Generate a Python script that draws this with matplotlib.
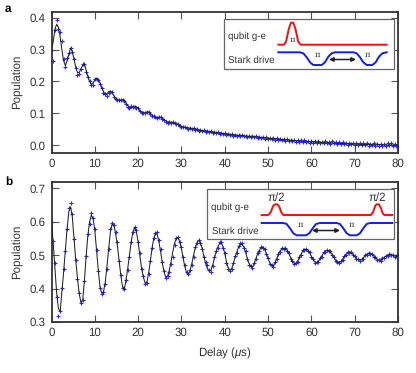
import matplotlib
matplotlib.use('Agg')
import matplotlib.pyplot as plt

plt.rcParams['font.family'] = ['Liberation Sans', 'DejaVu Sans']
plt.rcParams['mathtext.fontset'] = 'custom'
plt.rcParams['mathtext.it'] = 'Liberation Sans:italic'
plt.rcParams['text.hinting'] = 'none'

delay = [0.0, 0.4, 0.8, 1.2, 1.6, 2.0, 2.4, 2.8, 3.2, 3.6,
         4.0, 4.4, 4.8, 5.2, 5.6, 6.0, 6.4, 6.8, 7.2, 7.6,
         8.0, 8.4, 8.8, 9.2, 9.6, 10.0, 10.4, 10.8, 11.2, 11.6,
         12.0, 12.4, 12.8, 13.2, 13.6, 14.0, 14.4, 14.8, 15.2, 15.6,
         16.0, 16.4, 16.8, 17.2, 17.6, 18.0, 18.4, 18.8, 19.2, 19.6,
         20.0, 20.4, 20.8, 21.2, 21.6, 22.0, 22.4, 22.8, 23.2, 23.6,
         24.0, 24.4, 24.8, 25.2, 25.6, 26.0, 26.4, 26.8, 27.2, 27.6,
         28.0, 28.4, 28.8, 29.2, 29.6, 30.0, 30.4, 30.8, 31.2, 31.6,
         32.0, 32.4, 32.8, 33.2, 33.6, 34.0, 34.4, 34.8, 35.2, 35.6,
         36.0, 36.4, 36.8, 37.2, 37.6, 38.0, 38.4, 38.8, 39.2, 39.6,
         40.0, 40.4, 40.8, 41.2, 41.6, 42.0, 42.4, 42.8, 43.2, 43.6,
         44.0, 44.4, 44.8, 45.2, 45.6, 46.0, 46.4, 46.8, 47.2, 47.6,
         48.0, 48.4, 48.8, 49.2, 49.6, 50.0, 50.4, 50.8, 51.2, 51.6,
         52.0, 52.4, 52.8, 53.2, 53.6, 54.0, 54.4, 54.8, 55.2, 55.6,
         56.0, 56.4, 56.8, 57.2, 57.6, 58.0, 58.4, 58.8, 59.2, 59.6,
         60.0, 60.4, 60.8, 61.2, 61.6, 62.0, 62.4, 62.8, 63.2, 63.6,
         64.0, 64.4, 64.8, 65.2, 65.6, 66.0, 66.4, 66.8, 67.2, 67.6,
         68.0, 68.4, 68.8, 69.2, 69.6, 70.0, 70.4, 70.8, 71.2, 71.6,
         72.0, 72.4, 72.8, 73.2, 73.6, 74.0, 74.4, 74.8, 75.2, 75.6,
         76.0, 76.4, 76.8, 77.2, 77.6, 78.0, 78.4, 78.8, 79.2, 79.6,
         80.0]

# panel a, measured points
meas_a = [.300, .265, .362, .394, .364, .354, .326, .270, .247, .273,
          .289, .305, .294, .270, .242, .219, .223, .239, .254, .254,
          .231, .213, .200, .190, .190, .207, .208, .204, .192, .180,
          .165, .160, .155, .165, .168, .166, .152, .145, .143, .143,
          .143, .142, .140, .130, .120, .115, .122, .121, .120, .118,
          .117, .108, .100, .100, .101, .105, .103, .098, .090, .092,
          .087, .085, .087, .089, .082, .080, .074, .070, .073, .070,
          .073, .070, .066, .066, .060, .058, .056, .058, .054, .052,
          .055, .050, .053, .048, .049, .045, .047, .044, .046, .042,
          .044, .040, .043, .038, .041, .037, .040, .035, .038, .034,
          .037, .032, .036, .033, .035, .030, .033, .029, .032, .028,
          .031, .027, .030, .026, .029, .025, .028, .024, .027, .023,
          .026, .022, .025, .020, .024, .019, .023, .018, .022, .017,
          .021, .016, .020, .015, .019, .014, .020, .013, .017, .012,
          .016, .011, .016, .010, .015, .009, .015, .009, .014, .008,
          .013, .007, .012, .008, .013, .006, .011, .007, .012, .005,
          .011, .004, .012, .006, .011, .003, .010, .004, .009, .002,
          .008, .001, .007, .002, .006, -.001, .007, .000, .005, -.001,
          .006, .000, .005, -.002, .004, -.001, .005, -.002, .003, -.003,
          .004, -.002, .003, -.003, .005, -.001, .006, -.002, .004, -.003,
          .001]

# panel a, fit
fit_a = [.300, .325, .365, .380, .370, .340, .300, .265, .250, .265,
         .285, .305, .295, .270, .245, .228, .228, .240, .250, .255,
         .235, .215, .200, .190, .195, .205, .210, .205, .195, .180,
         .168, .160, .162, .168, .170, .165, .155, .148, .143, .140,
         .142, .143, .140, .132, .124, .118, .117, .120, .122, .120,
         .115, .108, .103, .101, .102, .104, .104, .100, .094, .090,
         .086, .086, .088, .088, .084, .080, .076, .073, .072, .072,
         .071, .069, .067, .064, .061, .058, .057, .056, .055, .054,
         .053, .052, .051, .050, .048, .047, .046, .045, .044, .043,
         .042, .042, .041, .040, .040, .039, .038, .037, .037, .036,
         .035, .035, .034, .034, .033, .032, .032, .031, .030, .030,
         .030, .029, .028, .028, .027, .027, .026, .026, .025, .025,
         .024, .024, .023, .022, .022, .021, .021, .020, .020, .019,
         .019, .018, .018, .017, .017, .016, .016, .015, .015, .014,
         .014, .013, .013, .013, .012, .012, .011, .011, .011, .010,
         .010, .010, .009, .009, .009, .008, .008, .008, .007, .007,
         .007, .006, .006, .006, .006, .005, .005, .005, .005, .004,
         .004, .004, .004, .003, .003, .003, .003, .003, .002, .002,
         .002, .002, .002, .002, .001, .001, .001, .001, .001, .001,
         .001, .001, .000, .000, .000, .000, .000, .000, .000, .000,
         .000]

# panel b, measured points
meas_b = [.600, .542, .478, .375, .317, .333, .403, .460, .513, .578,
          .640, .657, .623, .548, .487, .430, .387, .356, .367, .423,
          .498, .563, .592, .625, .610, .578, .515, .454, .403, .384,
          .390, .413, .460, .520, .578, .595, .590, .568, .538, .484,
          .440, .402, .398, .425, .456, .495, .540, .570, .583, .575,
          .540, .507, .460, .437, .415, .417, .445, .482, .522, .552,
          .565, .568, .545, .520, .480, .454, .433, .437, .450, .475,
          .495, .530, .550, .555, .540, .525, .495, .470, .450, .445,
          .455, .470, .495, .525, .537, .545, .537, .520, .495, .480,
          .470, .455, .450, .468, .495, .512, .522, .538, .540, .522,
          .508, .478, .460, .452, .458, .478, .498, .508, .528, .535,
          .535, .522, .512, .488, .472, .468, .462, .477, .488, .508,
          .513, .525, .523, .520, .503, .492, .474, .470, .466, .480,
          .488, .505, .510, .521, .518, .523, .512, .508, .490, .484,
          .473, .478, .480, .495, .500, .515, .515, .520, .513, .510,
          .494, .490, .478, .480, .479, .492, .496, .509, .510, .516,
          .512, .512, .500, .496, .483, .481, .476, .484, .486, .499,
          .501, .510, .508, .510, .501, .498, .488, .489, .483, .489,
          .490, .500, .501, .508, .504, .505, .496, .494, .485, .487,
          .484, .491, .491, .499, .498, .504, .500, .502, .496, .499,
          .500]

# panel b, fit
fit_b = [.600, .535, .460, .385, .340, .332, .390, .450, .515, .580,
         .630, .645, .615, .550, .485, .430, .385, .358, .365, .423,
         .498, .560, .600, .620, .610, .575, .515, .455, .405, .386,
         .390, .418, .465, .520, .570, .593, .590, .565, .530, .485,
         .440, .405, .398, .425, .460, .500, .540, .570, .583, .570,
         .540, .500, .460, .435, .417, .418, .445, .480, .520, .550,
         .565, .562, .540, .510, .475, .450, .433, .437, .455, .480,
         .510, .535, .550, .553, .540, .520, .490, .465, .447, .442,
         .455, .475, .500, .522, .538, .545, .537, .520, .495, .475,
         .460, .452, .455, .470, .490, .510, .525, .535, .537, .525,
         .505, .480, .462, .455, .460, .475, .495, .510, .525, .533,
         .532, .525, .510, .490, .475, .466, .465, .475, .490, .505,
         .515, .523, .525, .518, .505, .490, .477, .468, .468, .477,
         .490, .503, .513, .518, .520, .520, .515, .505, .493, .482,
         .476, .476, .482, .492, .503, .512, .517, .518, .515, .507,
         .497, .487, .480, .478, .481, .489, .498, .506, .512, .514,
         .514, .510, .502, .493, .485, .479, .478, .481, .488, .496,
         .503, .508, .510, .508, .503, .496, .490, .486, .485, .487,
         .492, .498, .503, .506, .506, .503, .498, .492, .487, .485,
         .486, .489, .493, .497, .500, .502, .502, .500, .498, .497,
         .500]

x_ticks = [0, 10, 20, 30, 40, 50, 60, 70, 80]
y_ticks_a = [0.0, 0.1, 0.2, 0.3, 0.4]
y_ticks_b = [0.3, 0.4, 0.5, 0.6, 0.7]

# pulse sketches for the insets, in figure pixels
red_a_x = [278.3, 284, 286, 289, 291, 293.3, 295.3, 298.3, 300.7, 386.7]
red_a_y = [44.7, 44.7, 41.7, 28.3, 22.7, 22.7, 28.3, 41.7, 44.7, 44.7]
blue_a_x = [278.3, 300, 303.3, 306.7, 310, 313.3, 321.7, 325, 328.3, 331.7, 335, 353.3,
            356.7, 360, 363.3, 366.7, 372.3, 375.7, 379, 382.3, 386.7]
blue_a_y = [52.3, 52.3, 53.3, 57.3, 62.3, 65, 65, 62.3, 56.7, 53.3, 52.3, 52.3,
            53.3, 57.3, 62.3, 65, 65, 62.3, 56.7, 53.3, 52.3]
red_b_x = [261.7, 268.3, 270.7, 273.3, 275, 277.3, 279.3, 281.3, 283.3, 371,
           373.3, 375.3, 376.7, 379, 381, 382.7, 384.3, 392.3]
red_b_y = [215, 215, 212.3, 205.7, 204.3, 204.3, 206.7, 212.3, 215, 215,
           211.7, 205.7, 204.3, 204.3, 208.3, 213.3, 215, 215]
blue_b_x = [261.7, 283.3, 286.7, 290, 293.3, 296.7, 306, 309.3, 312.7, 316, 320, 336.7,
            340, 343.3, 346.7, 350, 356.7, 360, 363.3, 366.7, 370, 392.3]
blue_b_y = [223, 223, 224, 228.3, 233.3, 235.3, 235.3, 233.3, 228.3, 224, 223, 223,
            224, 228.3, 233.3, 235.3, 235.3, 233.3, 228.3, 224, 223, 223]

W, H = 416, 373
dark = '#333333'
blue = '#2a2af5'


def px_axes(fig, left, top, right, bottom):
    return fig.add_axes([left / W, 1 - bottom / H, (right - left) / W, (bottom - top) / H])


def panel(ax, meas, fit, ylim, yticks, fmt):
    ax.plot(delay, meas, '+', color=blue, ms=3.4, mew=0.8, zorder=2)
    ax.plot(delay, fit, '-', color='#222222', lw=0.75, zorder=3)
    ax.set_xlim(0, 80)
    ax.set_ylim(*ylim)
    ax.set_xticks(x_ticks)
    ax.set_yticks(yticks)
    ax.set_yticklabels([fmt % v for v in yticks])
    ax.tick_params(direction='in', length=5, width=0.8, color='#555555', labelcolor=dark,
                   labelsize=8.3, top=True, right=True, pad=4)
    ax.set_ylabel('Population', fontsize=8.3, color=dark, labelpad=5)
    for s in ax.spines.values():
        s.set_linewidth(1.3)
        s.set_color(dark)


fig = plt.figure(figsize=(W / 100, H / 100), dpi=100)

ax_a = px_axes(fig, 51.5, 11.5, 398, 153)
panel(ax_a, meas_a, fit_a, (-0.025, 0.42), y_ticks_a, '%.1f')

ax_b = px_axes(fig, 51.5, 181.7, 398, 322)
panel(ax_b, meas_b, fit_b, (0.30, 0.72), y_ticks_b, '%.1f')
ax_b.set_xlabel(r'Delay ($\mu$s)', fontsize=8.3, color=dark, labelpad=5)

# overlay in figure pixels for the insets and panel letters
top = fig.add_axes([0, 0, 1, 1], zorder=5)
top.set_xlim(0, W)
top.set_ylim(H, 0)
top.axis('off')
top.patch.set_alpha(0)

for box in [(224.3, 19, 170, 50), (207.3, 189.3, 187, 50)]:
    top.add_patch(plt.Rectangle(box[:2], box[2], box[3], fc='white', ec='#666666', lw=0.9))

top.plot(red_a_x, red_a_y, color='#f01010', lw=1.4, solid_joinstyle='round')
top.plot(blue_a_x, blue_a_y, color='#1020e0', lw=1.4, solid_joinstyle='round')
top.plot(red_b_x, red_b_y, color='#f01010', lw=1.4, solid_joinstyle='round')
top.plot(blue_b_x, blue_b_y, color='#1020e0', lw=1.4, solid_joinstyle='round')

for xy_from, xy_to in [((329, 59.5), (356, 59.5)), ((312, 230.5), (340, 230.5))]:
    top.annotate('', xy=xy_to, xytext=xy_from,
                 arrowprops=dict(arrowstyle='<|-|>', color='#222222', lw=1.1,
                                 mutation_scale=6, shrinkA=0, shrinkB=0))

small = dict(fontsize=7, color=dark, va='center')
top.text(227.5, 36.7, 'qubit g-e', **small)
top.text(228, 60.5, 'Stark drive', **small)
top.text(211, 207.5, 'qubit g-e', **small)
top.text(211.5, 231, 'Stark drive', **small)

pi = dict(family='DejaVu Serif', fontsize=6, color=dark, ha='center', va='center')
top.text(292, 40, 'π', **pi)
top.text(317, 54.5, 'π', **pi)
top.text(367.5, 54.5, 'π', **pi)
top.text(300.5, 224.5, 'π', **pi)
top.text(351.5, 224.5, 'π', **pi)

half = dict(fontsize=8.3, color=dark, ha='center', va='center')
top.text(276, 197.5, 'π/2', **half)
top.text(377, 197.5, 'π/2', **half)

top.text(5, 9, 'a', fontsize=8.5, fontweight='bold', color='black', va='center')
top.text(5, 182, 'b', fontsize=8.5, fontweight='bold', color='black', va='center')

fig.savefig('out.png', dpi=100)
